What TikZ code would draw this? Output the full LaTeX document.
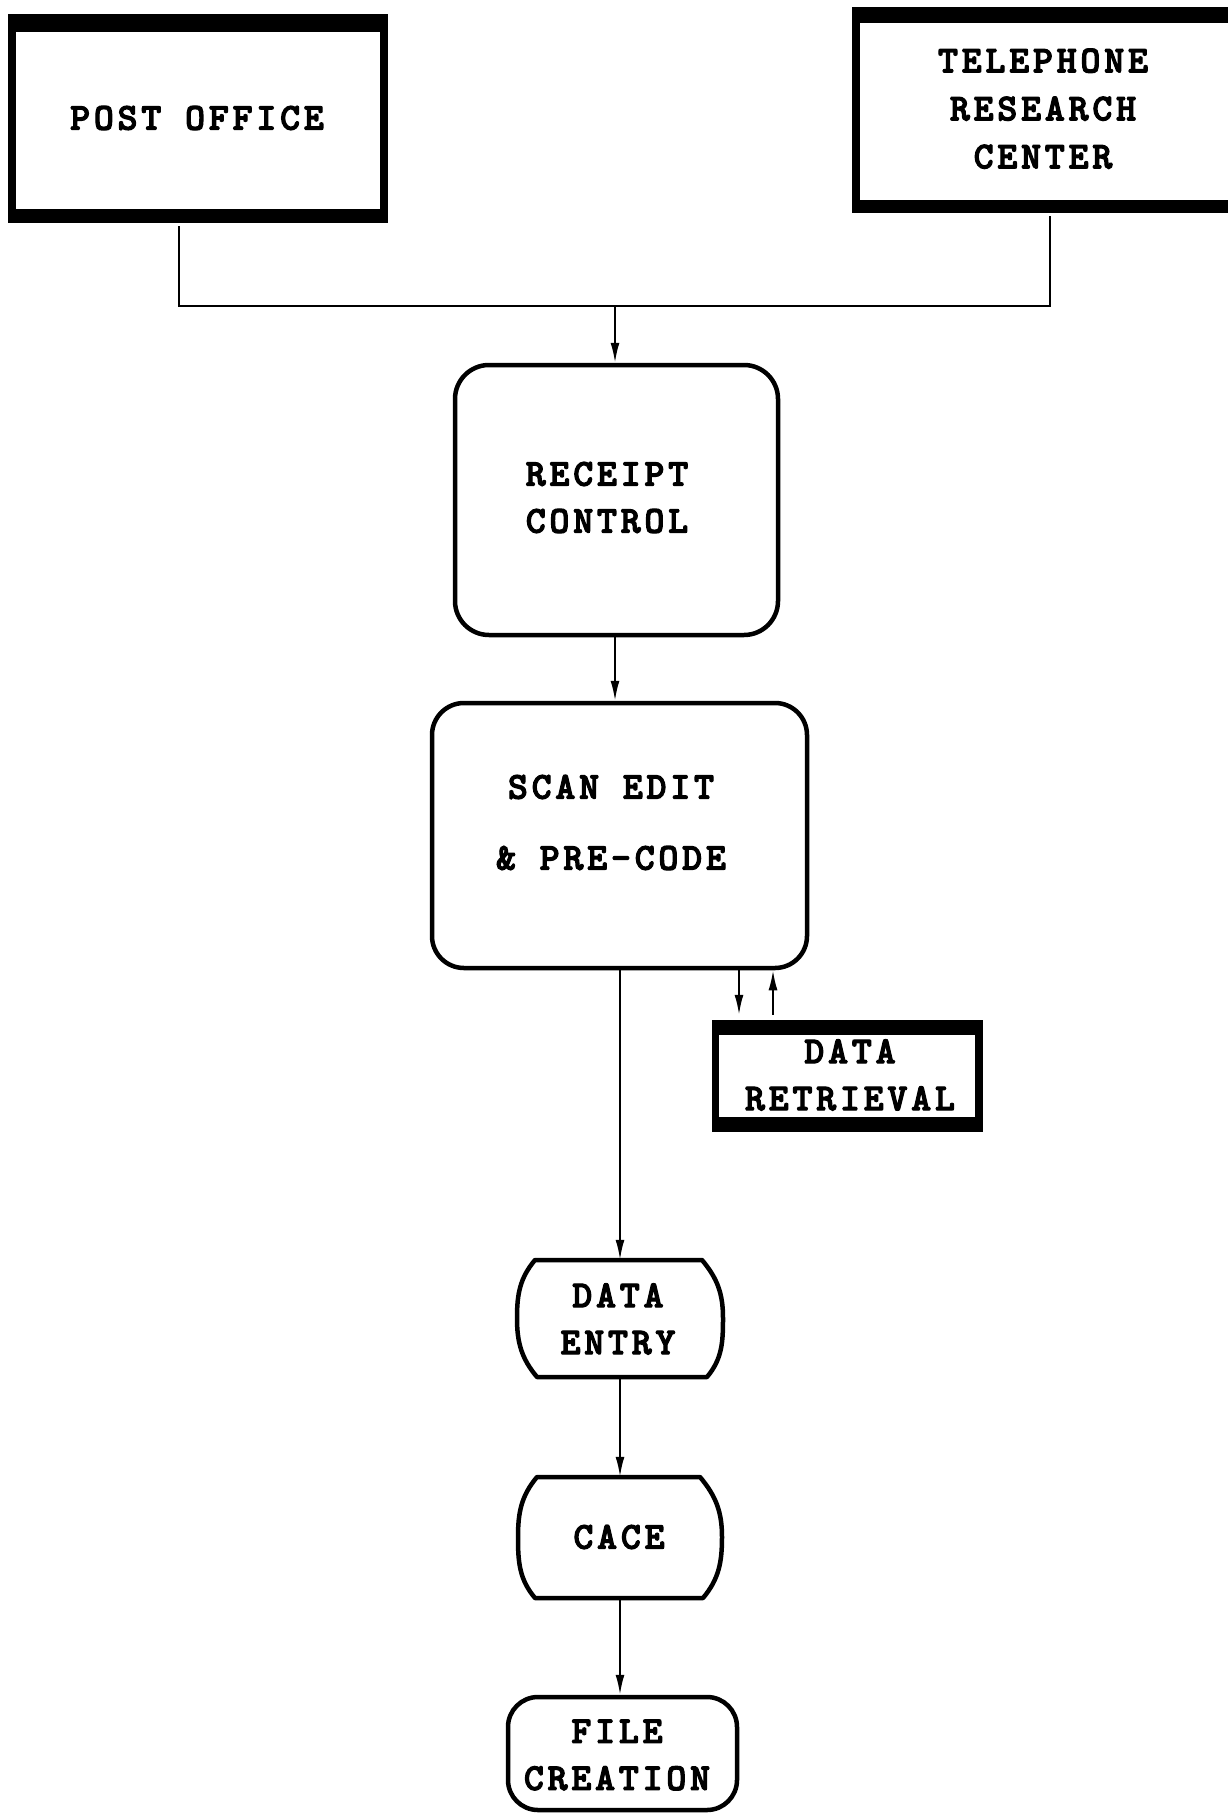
\documentclass[tikz,border=0pt]{standalone}
\usepackage{fontspec}
\newfontfamily\boxfont[FakeBold=3, LetterSpace=10]{lmmonolt10-bold.otf}
\usetikzlibrary{arrows.meta}

\begin{document}
\begin{tikzpicture}[x=1pt,y=-1pt,
  lbl/.style={font=\boxfont\fontsize{38}{47}\selectfont, align=center, inner sep=0},
  roundbox/.style={draw, line width=4.5, rounded corners=34, inner sep=0},
  frame/.style={fill=black, inner sep=0},
  anchorbox/.style={inner sep=0},
  flow/.style={line width=2, -{Latex[length=20,width=9]}},
  link/.style={line width=2},
  outline/.style={line width=4.5, line join=round}
]
\fill[white] (0,0) rectangle (1228,1814);
\useasboundingbox (0,0) rectangle (1228,1814);
\clip (0,0) rectangle (1228,1814);

% heavy-framed source boxes
\node[frame, minimum width=380, minimum height=209] (post) at (198,118.5) {};
\fill[white] ([xshift=8,yshift=-18]post.north west) rectangle ([xshift=-8,yshift=14]post.south east);
\node[lbl] at (197,118) {POST OFFICE};

\node[frame, minimum width=388, minimum height=206] (tel) at (1046,110) {};
\fill[white] ([xshift=8,yshift=-16]tel.north west) rectangle ([xshift=-8,yshift=13]tel.south east);
\node[lbl, text depth=0pt] at (1043,108.5) {TELEPHONE\\[1pt]RESEARCH\\[1pt]CENTER};

% rounded process boxes
\node[roundbox, minimum width=323, minimum height=270] (receipt) at (616.5,500) {};
\node[lbl] at (607,497.5) {RECEIPT\\CONTROL};

\node[roundbox, rounded corners=32, minimum width=375, minimum height=265] (scan) at (619.5,835.5) {};
\node[lbl] at (611,822.5) {SCAN EDIT\\[24pt]\& PRE-CODE};

% data retrieval side box
\node[frame, minimum width=271, minimum height=112] (retr) at (847.5,1076) {};
\fill[white] ([xshift=7,yshift=-15]retr.north west) rectangle ([xshift=-8,yshift=15]retr.south east);
\node[lbl] at (850,1075) {DATA\\RETRIEVAL};

% bulged-side boxes
\node[anchorbox, minimum width=206, minimum height=117] (entry) at (620,1318.5) {};
\draw[outline] (535,1260) -- (702,1260)
  to[out=-50,in=90] (723,1318) to[out=-90,in=50] (707,1377)
  -- (537,1377) to[out=130,in=-90] (517,1318) to[out=90,in=-130] cycle;
\node[lbl] at (618,1319) {DATA\\ENTRY};

\node[anchorbox, minimum width=204, minimum height=121] (cace) at (620,1537.5) {};
\draw[outline] (537,1477) -- (700,1477)
  to[out=-50,in=90] (722,1537) to[out=-90,in=50] (703,1598)
  -- (535,1598) to[out=130,in=-90] (518,1537) to[out=90,in=-130] cycle;
\node[lbl] at (619,1537) {CACE};

\node[roundbox, rounded corners=30, minimum width=229, minimum height=113] (file) at (622.5,1753.5) {};
\node[lbl] at (617,1755) {FILE\\CREATION};

% connectors
\coordinate (join) at (615,306);
\draw[link] ([xshift=-19,yshift=-3]post.south) |- (join);
\draw[link] ([xshift=4,yshift=-3]tel.south) |- (join);
\draw[flow] (join) -- (join |- receipt.north);
\draw[flow] (join |- receipt.south) -- (join |- scan.north);
\draw[flow] (entry.north |- scan.south) -- (entry.north);
\draw[flow] ([xshift=-108.5]retr.north |- scan.south) -- ([xshift=-108.5,yshift=5]retr.north);
\draw[flow] ([xshift=-74.5,yshift=5]retr.north) -- ([xshift=-74.5]retr.north |- scan.south);
\draw[flow] (entry.south) -- (cace.north);
\draw[flow] (cace.south) -- (cace.south |- file.north);
\end{tikzpicture}
\end{document}
